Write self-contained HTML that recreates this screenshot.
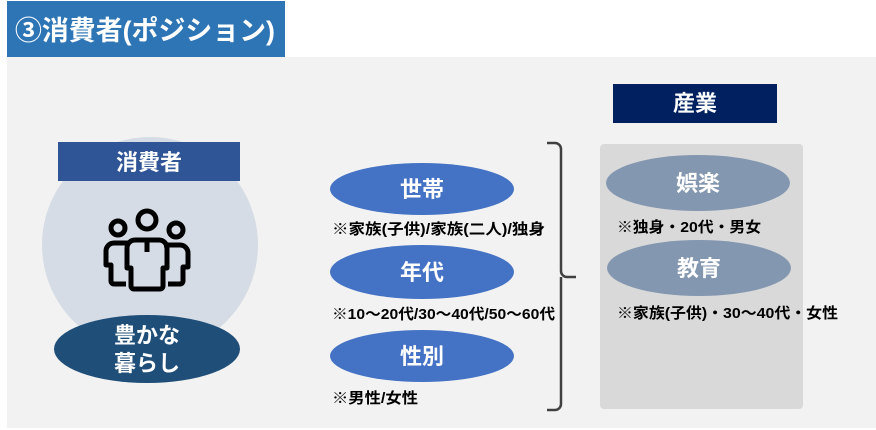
<!DOCTYPE html>
<html><head><meta charset="utf-8"><style>
body{margin:0;width:876px;height:430px;background:#fff;overflow:hidden}
svg{display:block}
text{font-family:"Liberation Sans","Noto Sans CJK JP",sans-serif;font-weight:bold}
</style></head><body>
<svg width="876" height="430" viewBox="0 0 876 430">
<rect x="7" y="57" width="869" height="371" fill="#f2f2f2"/>
<rect x="7" y="1" width="278" height="56" fill="#2e75b6"/>
<text x="15" y="40" font-size="27" fill="#fff" textLength="260" lengthAdjust="spacingAndGlyphs">③消費者(ポジション)</text>

<circle cx="150" cy="245" r="108" fill="#d6dce5"/>
<rect x="58" y="142" width="182" height="39" fill="#2f5597"/>
<text x="149" y="170" font-size="22" fill="#fff" text-anchor="middle">消費者</text>
<g fill="none" stroke="#000" stroke-width="5" stroke-linejoin="round">
<circle cx="147" cy="220" r="9"/>
<circle cx="118" cy="228" r="7"/>
<circle cx="176" cy="230" r="7"/>
<path d="M135 240 h24 a8 8 0 0 1 8 8 v20 h-4 v18 a3 3 0 0 1 -3 3 h-26 a3 3 0 0 1 -3 -3 v-18 h-4 v-20 a8 8 0 0 1 8 -8z"/>
<path d="M130 243 h-16 a8 8 0 0 0 -8 8 v14 h5 v16 a3 3 0 0 0 3 3 h12"/>
<path d="M164 245 h16 a8 8 0 0 1 8 8 v14 h-5 v14 a3 3 0 0 1 -3 3 h-12"/>
<path d="M147 240 v12"/>
</g>
<ellipse cx="147" cy="349" rx="93" ry="34" fill="#1f4e79"/>
<text x="147" y="343" font-size="22" fill="#fff" text-anchor="middle">豊かな</text>
<text x="147" y="371" font-size="22" fill="#fff" text-anchor="middle">暮らし</text>

<ellipse cx="422" cy="189" rx="92" ry="26" fill="#4472c4"/>
<text x="422" y="197" font-size="22" fill="#fff" text-anchor="middle">世帯</text>
<ellipse cx="422" cy="272" rx="92" ry="27" fill="#4472c4"/>
<text x="422" y="280" font-size="22" fill="#fff" text-anchor="middle">年代</text>
<ellipse cx="422" cy="356" rx="92" ry="26" fill="#4472c4"/>
<text x="422" y="364" font-size="22" fill="#fff" text-anchor="middle">性別</text>
<text x="332" y="234" font-size="15" fill="#000" textLength="213" lengthAdjust="spacingAndGlyphs">※家族(子供)/家族(二人)/独身</text>
<text x="332" y="319" font-size="15" fill="#000" textLength="223" lengthAdjust="spacingAndGlyphs">※10～20代/30～40代/50～60代</text>
<text x="332" y="403" font-size="15" fill="#000" textLength="86" lengthAdjust="spacingAndGlyphs">※男性/女性</text>

<path d="M547 143 h8 a6 6 0 0 1 6 6 v122 a6 6 0 0 0 6 6 h9 M561 277 v127 a6 6 0 0 1 -6 6 h-8" fill="none" stroke="#404040" stroke-width="2.5"/>

<rect x="613" y="84" width="164" height="39" fill="#002060"/>
<text x="695" y="111" font-size="22" fill="#fff" text-anchor="middle">産業</text>
<rect x="600" y="144" width="203" height="265" rx="4" fill="#d9d9d9"/>
<ellipse cx="698" cy="183" rx="92" ry="28" fill="#8497b0"/>
<text x="698" y="191" font-size="22" fill="#fff" text-anchor="middle">娯楽</text>
<ellipse cx="699" cy="268" rx="92" ry="28" fill="#8497b0"/>
<text x="699" y="276" font-size="22" fill="#fff" text-anchor="middle">教育</text>
<text x="617" y="232" font-size="15" fill="#000" textLength="144" lengthAdjust="spacingAndGlyphs">※独身・20代・男女</text>
<text x="617" y="318" font-size="15" fill="#000" textLength="221" lengthAdjust="spacingAndGlyphs">※家族(子供)・30～40代・女性</text>
</svg>
</body></html>
